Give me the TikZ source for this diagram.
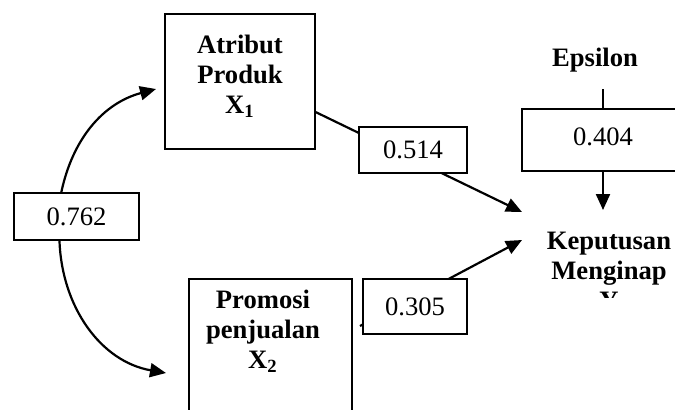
\documentclass[tikz,border=0pt]{standalone}
\usepackage{fontspec}
\setmainfont{Liberation Serif}
\usetikzlibrary{arrows.meta}

\begin{document}
\begin{tikzpicture}[x=0.5pt,y=-0.5pt,>={Triangle[length=8pt,width=7pt]},
  varbox/.style={draw,line width=0.8pt,fill=white,inner sep=0pt},
  coefbox/.style={draw,line width=0.8pt,fill=white,inner sep=0pt,font=\fontsize{13.3}{15}\selectfont},
  varlabel/.style={align=center,font=\fontsize{13.3}{15}\selectfont\bfseries},
  arr/.style={line width=1.1pt,->}]
  \useasboundingbox (0,0) rectangle (675,409);
  \clip (0,0) rectangle (675,409);
  % exogenous variables
  \node[varbox,minimum width=75pt,minimum height=67.5pt] (x1) at (240,81.5) {};
  \node[varlabel] (x1txt) at (240,76) {Atribut\\Produk\\X\textsubscript{1}};
  \node[varbox,minimum width=81.5pt,minimum height=75.5pt] (x2) at (270.5,354.5) {};
  \node[varlabel] (x2txt) at (263,331) {Promosi\\penjualan\\X\textsubscript{2}};
  % endogenous variable, last line cut off by its text box
  \begin{scope}
    \clip (520,200) rectangle (675,297);
    \node[varlabel] (y) at (609,271) {Keputusan\\Menginap\\Y};
  \end{scope}
  \node[varlabel] (eps) at (595,60) {Epsilon};
  % arrow tips and loose ends
  \coordinate (tipU) at (156,89);
  \coordinate (tipD) at (166,373);
  \coordinate (tipA) at (522,212);
  \coordinate (tipB) at (522,240);
  \coordinate (tipE) at (603,210);
  \coordinate (etop) at (603,89);
  \coordinate (x2out) at (360,326);
  \node[coefbox,minimum width=62.5pt,minimum height=23.5pt] (r12) at (76.5,216.5) {0.762};
  % paths, drawn under the coefficient boxes
  \draw[arr] (r12.122) to[out=78,in=195] (tipU);
  \draw[arr] (r12.-125) to[out=-88,in=170] (tipD);
  \draw[arr] (x1.-22) -- (tipA);
  \draw[arr] (x2out) -- (tipB);
  \draw[line width=1.1pt] (etop) -- (603,109);
  \node[coefbox,minimum width=54pt,minimum height=23pt] (p1) at (413,150) {0.514};
  \node[coefbox,minimum width=52pt,minimum height=27.5pt] (p2) at (415,306.5) {0.305};
  \node[coefbox,minimum width=81.5pt,minimum height=31pt] (e404) at (603.5,140) {};
  \node[font=\fontsize{13.3}{15}\selectfont] (e404txt) at (603,137) {0.404};
  \draw[arr] (e404.south -| etop) -- (tipE);
\end{tikzpicture}
\end{document}
